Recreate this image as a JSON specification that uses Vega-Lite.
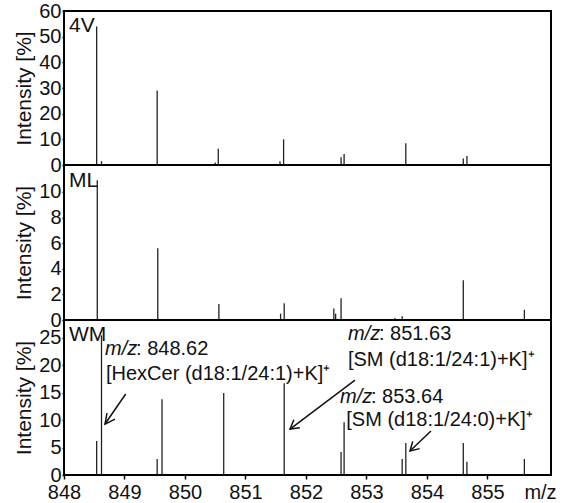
{
  "$schema": "https://vega.github.io/schema/vega-lite/v6.json",
  "padding": {"left": 12, "top": 0, "right": 0, "bottom": 0},
  "background": "white",
  "spacing": 0,
  "bounds": "flush",
  "config": {
    "font": "Liberation Sans",
    "view": {"stroke": "black", "strokeWidth": 2},
    "axis": {
      "domain": false, "grid": false,
      "labelFont": "Liberation Sans", "labelFontSize": 20, "labelColor": "#111",
      "labelOverlap": false, "labelFlush": false, "labelBound": false, "format": "d",
      "titleFont": "Liberation Sans", "titleFontSize": 21, "titleFontWeight": "normal", "titleColor": "#111",
      "tickColor": "black", "tickWidth": 1.5
    }
  },
  "datasets": {
    "peaks": [
      {"panel": "4V", "mz": 848.54, "intensity": 54},
      {"panel": "4V", "mz": 848.62, "intensity": 1.5},
      {"panel": "4V", "mz": 849.54, "intensity": 29},
      {"panel": "4V", "mz": 850.50, "intensity": 1},
      {"panel": "4V", "mz": 850.55, "intensity": 6.3},
      {"panel": "4V", "mz": 851.57, "intensity": 1.5},
      {"panel": "4V", "mz": 851.63, "intensity": 10},
      {"panel": "4V", "mz": 852.58, "intensity": 3},
      {"panel": "4V", "mz": 852.63, "intensity": 4.3},
      {"panel": "4V", "mz": 853.65, "intensity": 8.5},
      {"panel": "4V", "mz": 854.60, "intensity": 2.5},
      {"panel": "4V", "mz": 854.66, "intensity": 3.5},
      {"panel": "4V", "mz": 855.61, "intensity": 0.4},
      {"panel": "ML", "mz": 848.55, "intensity": 10.9},
      {"panel": "ML", "mz": 849.55, "intensity": 5.6},
      {"panel": "ML", "mz": 850.56, "intensity": 1.25},
      {"panel": "ML", "mz": 851.58, "intensity": 0.5},
      {"panel": "ML", "mz": 851.64, "intensity": 1.3},
      {"panel": "ML", "mz": 852.46, "intensity": 0.9},
      {"panel": "ML", "mz": 852.49, "intensity": 0.5},
      {"panel": "ML", "mz": 852.58, "intensity": 1.7},
      {"panel": "ML", "mz": 853.47, "intensity": 0.15},
      {"panel": "ML", "mz": 853.59, "intensity": 0.3},
      {"panel": "ML", "mz": 854.60, "intensity": 3.1},
      {"panel": "ML", "mz": 855.61, "intensity": 0.8},
      {"panel": "WM", "mz": 848.54, "intensity": 6.2},
      {"panel": "WM", "mz": 848.62, "intensity": 25.4},
      {"panel": "WM", "mz": 849.54, "intensity": 2.9},
      {"panel": "WM", "mz": 849.62, "intensity": 13.8},
      {"panel": "WM", "mz": 850.64, "intensity": 14.9},
      {"panel": "WM", "mz": 851.64, "intensity": 16.7},
      {"panel": "WM", "mz": 852.58, "intensity": 4.2},
      {"panel": "WM", "mz": 852.63, "intensity": 9.6},
      {"panel": "WM", "mz": 853.59, "intensity": 2.9},
      {"panel": "WM", "mz": 853.65, "intensity": 5.8},
      {"panel": "WM", "mz": 854.60, "intensity": 5.8},
      {"panel": "WM", "mz": 854.66, "intensity": 2.4},
      {"panel": "WM", "mz": 855.61, "intensity": 2.9}
    ],
    "labels": [
      {"panel": "4V", "text": "4V", "mz": 848.083, "intensity": 54.1},
      {"panel": "ML", "text": "ML", "mz": 848.083, "intensity": 10.85},
      {"panel": "WM", "text": "WM", "mz": 848.083, "intensity": 25.5}
    ],
    "ann": [
      {"part": "mz", "text": "m/z", "mz": 848.678, "intensity": 22.9},
      {"part": "value", "text": ": 848.62", "mz": 848.678, "intensity": 22.9},
      {"part": "formula", "text": "[HexCer (d18:1/24:1)+K]⁺", "mz": 848.694, "intensity": 18.4},
      {"part": "mz", "text": "m/z", "mz": 852.694, "intensity": 25.6},
      {"part": "value", "text": ": 851.63", "mz": 852.694, "intensity": 25.6},
      {"part": "formula", "text": "[SM (d18:1/24:1)+K]⁺", "mz": 852.694, "intensity": 20.9},
      {"part": "mz", "text": "m/z", "mz": 852.562, "intensity": 14.2},
      {"part": "value", "text": ": 853.64", "mz": 852.562, "intensity": 14.2},
      {"part": "formula", "text": "[SM (d18:1/24:0)+K]⁺", "mz": 852.666, "intensity": 10.0}
    ],
    "arrows": [
      {"seg": "a1", "order": 0, "mz": 849.020, "intensity": 14.73},
      {"seg": "a1", "order": 1, "mz": 848.678, "intensity": 9.27},
      {"seg": "h1", "order": 0, "mz": 848.843, "intensity": 10.18},
      {"seg": "h1", "order": 1, "mz": 848.678, "intensity": 9.27},
      {"seg": "h1", "order": 2, "mz": 848.711, "intensity": 11.27},
      {"seg": "a2", "order": 0, "mz": 852.810, "intensity": 17.27},
      {"seg": "a2", "order": 1, "mz": 851.736, "intensity": 8.36},
      {"seg": "h2", "order": 0, "mz": 851.899, "intensity": 8.58},
      {"seg": "h2", "order": 1, "mz": 851.736, "intensity": 8.36},
      {"seg": "h2", "order": 2, "mz": 851.800, "intensity": 10.04},
      {"seg": "a3", "order": 0, "mz": 854.066, "intensity": 8.0},
      {"seg": "a3", "order": 1, "mz": 853.719, "intensity": 4.36},
      {"seg": "h3", "order": 0, "mz": 853.879, "intensity": 4.80},
      {"seg": "h3", "order": 1, "mz": 853.719, "intensity": 4.36},
      {"seg": "h3", "order": 2, "mz": 853.764, "intensity": 6.11}
    ]
  },
  "vconcat": [
    {
      "width": 487, "height": 154,
      "encoding": {
        "x": {"field": "mz", "type": "quantitative", "scale": {"domain": [848, 856.05], "nice": false, "zero": false}, "axis": null},
        "y": {"field": "intensity", "type": "quantitative", "scale": {"domain": [0, 60], "nice": false},
              "axis": {"title": "Intensity [%]", "values": [0, 10, 20, 30, 40, 50, 60], "labelOverlap": false, "tickSize": 2, "labelPadding": 1, "titlePadding": 4}}
      },
      "layer": [
        {
          "data": {"name": "peaks"},
          "transform": [{"filter": "datum.panel === '4V'"}],
          "mark": {"type": "rule", "color": "#222", "strokeWidth": 1.3},
          "encoding": {"y2": {"datum": 0}}
        },
        {
          "data": {"name": "labels"},
          "transform": [{"filter": "datum.panel === '4V'"}],
          "mark": {"type": "text", "align": "left", "baseline": "middle", "fontSize": 21, "color": "#111"},
          "encoding": {"text": {"field": "text"}}
        }
      ]
    },
    {
      "width": 487, "height": 155,
      "encoding": {
        "x": {"field": "mz", "type": "quantitative", "scale": {"domain": [848, 856.05], "nice": false, "zero": false}, "axis": null},
        "y": {"field": "intensity", "type": "quantitative", "scale": {"domain": [0, 12.1], "nice": false},
              "axis": {"title": "Intensity [%]", "values": [0, 2, 4, 6, 8, 10], "labelOverlap": false, "tickSize": 2, "labelPadding": 1, "titlePadding": 4}}
      },
      "layer": [
        {
          "data": {"name": "peaks"},
          "transform": [{"filter": "datum.panel === 'ML'"}],
          "mark": {"type": "rule", "color": "#222", "strokeWidth": 1.3},
          "encoding": {"y2": {"datum": 0}}
        },
        {
          "data": {"name": "labels"},
          "transform": [{"filter": "datum.panel === 'ML'"}],
          "mark": {"type": "text", "align": "left", "baseline": "middle", "fontSize": 21, "color": "#111"},
          "encoding": {"text": {"field": "text"}}
        }
      ]
    },
    {
      "width": 487, "height": 155,
      "encoding": {
        "x": {"field": "mz", "type": "quantitative", "scale": {"domain": [848, 856.05], "nice": false, "zero": false},
              "axis": {"title": "m/z", "values": [848, 849, 850, 851, 852, 853, 854, 855], "labelOverlap": false, "tickSize": 4, "labelPadding": 3,
                       "titleFontSize": 20, "titleX": 476, "titleY": 7, "titleAlign": "center", "titleBaseline": "top"}},
        "y": {"field": "intensity", "type": "quantitative", "scale": {"domain": [0, 28.2], "nice": false},
              "axis": {"title": "Intensity [%]", "values": [0, 5, 10, 15, 20, 25], "labelOverlap": false, "tickSize": 2, "labelPadding": 1, "titlePadding": 4}}
      },
      "layer": [
        {
          "data": {"name": "peaks"},
          "transform": [{"filter": "datum.panel === 'WM'"}],
          "mark": {"type": "rule", "color": "#222", "strokeWidth": 1.3},
          "encoding": {"y2": {"datum": 0}}
        },
        {
          "data": {"name": "labels"},
          "transform": [{"filter": "datum.panel === 'WM'"}],
          "mark": {"type": "text", "align": "left", "baseline": "middle", "fontSize": 21, "color": "#111"},
          "encoding": {"text": {"field": "text"}}
        },
        {
          "data": {"name": "arrows"},
          "mark": {"type": "line", "color": "#111", "strokeWidth": 1.5},
          "encoding": {"detail": {"field": "seg"}, "order": {"field": "order"}}
        },
        {
          "data": {"name": "ann"},
          "transform": [{"filter": "datum.part === 'mz'"}],
          "mark": {"type": "text", "align": "left", "baseline": "middle", "fontSize": 20, "fontStyle": "italic", "color": "#111"},
          "encoding": {"text": {"field": "text"}}
        },
        {
          "data": {"name": "ann"},
          "transform": [{"filter": "datum.part === 'value'"}],
          "mark": {"type": "text", "align": "left", "baseline": "middle", "fontSize": 20, "dx": 31, "color": "#111"},
          "encoding": {"text": {"field": "text"}}
        },
        {
          "data": {"name": "ann"},
          "transform": [{"filter": "datum.part === 'formula'"}],
          "mark": {"type": "text", "align": "left", "baseline": "middle", "fontSize": 20, "color": "#111"},
          "encoding": {"text": {"field": "text"}}
        }
      ]
    }
  ]
}
